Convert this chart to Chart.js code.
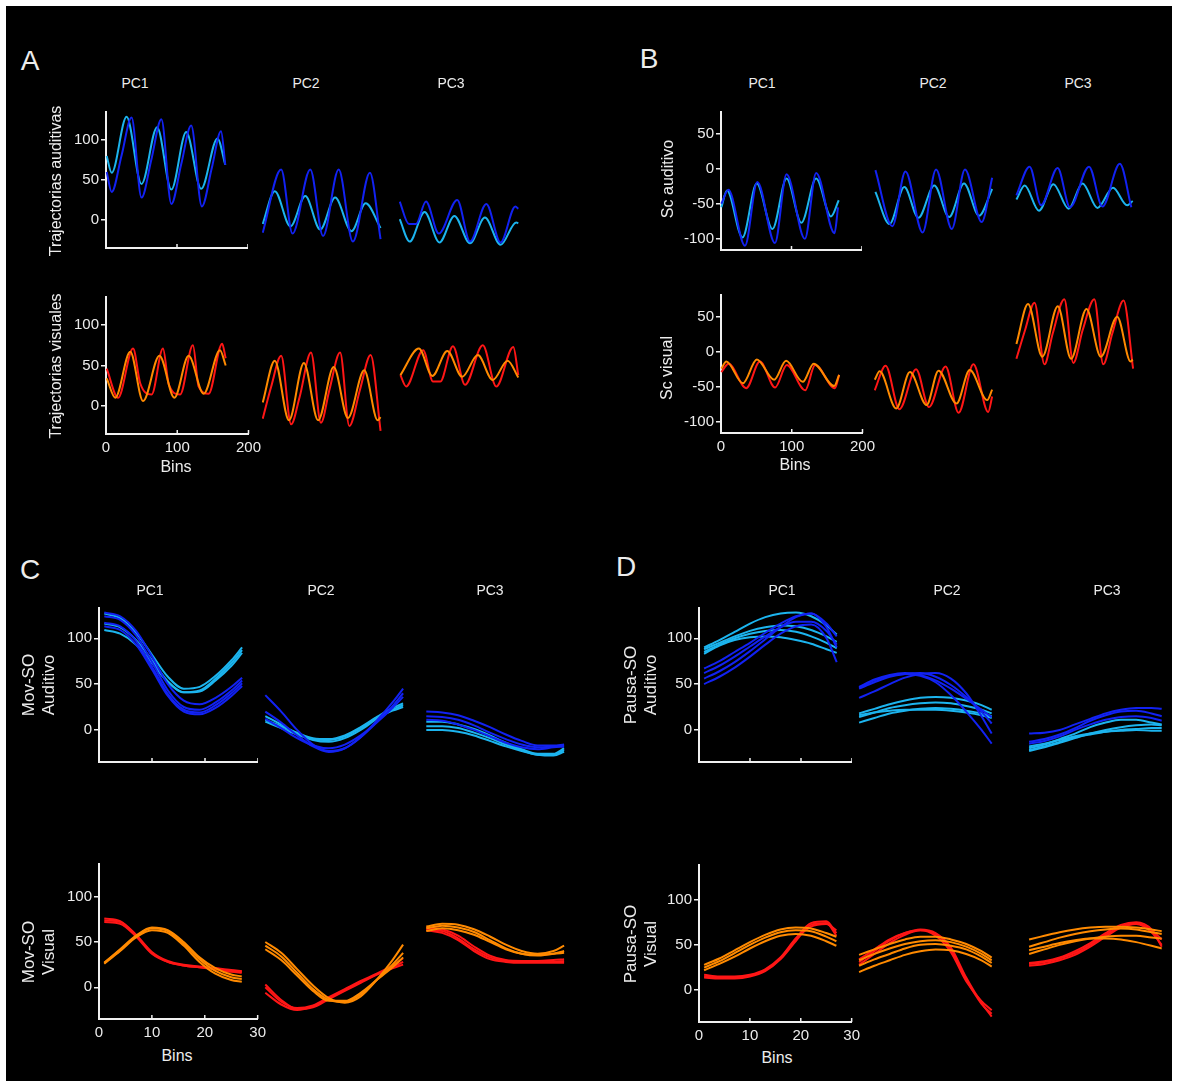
<!DOCTYPE html>
<html>
<head>
<meta charset="utf-8">
<script src="https://cdn.jsdelivr.net/npm/chart.js@4.4.1/dist/chart.umd.min.js"></script>
<style>
  body { margin: 0; background: #fff; }
  #page { position: relative; width: 1180px; height: 1083px; overflow: hidden; background: #fff; }
  #black { position: absolute; left: 6px; top: 6px; width: 1166px; height: 1075px; background: #000; }
  canvas { position: absolute; }
  .txt { position: absolute; color: #ececec; font-family: 'Liberation Sans', Arial, sans-serif;
         white-space: nowrap; transform: translate(-50%, -50%); text-align: center; }
  .rot { transform: translate(-50%, -50%) rotate(-90deg); line-height: 1.2; }
</style>
</head>
<body>
<div id="page"><div id="black"></div></div>
<script>
// ---- Panel A: Trajectorias auditivas / visuales (bins 0-170) ----
const A_aud_PC1_cyan_bins = [1, 8, 29, 50, 72, 92, 113, 134, 157, 168];
const A_aud_PC1_cyan      = [80, 59, 129, 45, 116, 38, 110, 39, 102, 69];
const A_aud_PC1_blue_bins = [1, 8, 22, 36, 50, 64, 78, 92, 106, 120, 135, 149, 162, 168];
const A_aud_PC1_blue      = [60, 35, 81, 128, 28, 76, 126, 20, 70, 118, 17, 65, 111, 69];
const A_aud_PC2_cyan_bins = [1, 18, 40, 61, 82, 103, 126, 146, 167];
const A_aud_PC2_cyan      = [-5, 36, -8, 30, -12, 28, -14, 21, -10];
const A_aud_PC2_blue_bins = [1, 27, 43, 68, 86, 108, 128, 152, 167];
const A_aud_PC2_blue      = [-16, 63, -17, 63, -20, 63, -27, 59, -24];
const A_aud_PC3_cyan_bins = [1, 15, 36, 57, 78, 100, 121, 143, 165, 168];
const A_aud_PC3_cyan      = [1, -27, 10, -28, 5, -29, 3, -31, -3, -4];
const A_aud_PC3_blue_bins = [1, 14, 24, 38, 56, 82, 100, 123, 143, 164, 168];
const A_aud_PC3_blue      = [23, -5, -5, 23, -17, 25, -27, 20, -28, 17, 14];

const A_vis_PC1_orange_bins = [1, 13, 34, 52, 75, 96, 116, 137, 160, 168];
const A_vis_PC1_orange      = [34, 10, 67, 6, 62, 10, 62, 15, 69, 50];
const A_vis_PC1_red_bins    = [1, 17, 38, 48, 64, 80, 88, 104, 122, 130, 144, 163, 168];
const A_vis_PC1_red         = [46, 10, 71, 28, 14, 71, 27, 14, 75, 24, 15, 77, 59];
const A_vis_PC2_orange_bins = [1, 18, 38, 59, 79, 101, 121, 144, 163, 167];
const A_vis_PC2_orange      = [4, 56, -18, 53, -18, 48, -15, 44, -18, -14];
const A_vis_PC2_red_bins    = [1, 13, 27, 41, 53, 69, 83, 95, 110, 123, 138, 153, 167];
const A_vis_PC2_red         = [-16, 24, 62, -23, 11, 66, -21, 20, 66, -25, 20, 63, -31];
const A_vis_PC3_orange_bins = [2, 28, 47, 68, 89, 111, 132, 153, 168];
const A_vis_PC3_orange      = [38, 71, 37, 68, 36, 63, 32, 56, 35];
const A_vis_PC3_red_bins    = [2, 10, 34, 48, 58, 76, 93, 118, 137, 161, 168];
const A_vis_PC3_red         = [38, 24, 69, 30, 30, 74, 26, 75, 24, 73, 38];

// ---- Panel B: Sc auditivo / Sc visual ----
const B_aud_PC1_cyan_bins = [0.5, 8.5, 30.5, 50.7, 73, 93, 114, 135, 156, 167];
const B_aud_PC1_cyan      = [-55, -31, -98, -21, -86, -14, -77, -14, -68, -45];
const B_aud_PC1_blue_bins = [0.5, 10.5, 34, 51.5, 76.5, 93, 119, 135, 161, 166];
const B_aud_PC1_blue      = [-50, -30, -110, -19, -106, -8, -100, -6, -92, -55];
const B_aud_PC2_cyan_bins = [2, 22, 43, 63, 85.5, 106.6, 127.7, 149, 167.6];
const B_aud_PC2_cyan      = [-33, -79, -26, -70, -24, -69, -21, -67, -29];
const B_aud_PC2_blue_bins = [2, 26, 44.6, 69, 88, 110.4, 129, 152.7, 167.6];
const B_aud_PC2_blue      = [-2, -82, -4, -91, -1, -86, -1, -76, -13];
const B_aud_PC3_cyan_bins = [2, 13.7, 34, 54.5, 76, 95.8, 117, 139, 159, 167];
const B_aud_PC3_cyan      = [-44, -24, -60, -22, -57, -21, -56, -27, -52, -46];
const B_aud_PC3_blue_bins = [2, 20.7, 37, 60.5, 78, 105, 124, 148.7, 165];
const B_aud_PC3_blue      = [-38, 3, -52, 1, -55, 3, -54, 7, -55];

const B_vis_PC1_orange_bins = [0.5, 7.5, 31, 50.7, 75, 92, 115.5, 131, 160, 167];
const B_vis_PC1_orange      = [-24, -14, -45, -11, -40, -13, -43, -17, -49, -33];
const B_vis_PC1_red_bins    = [0.5, 10.7, 35.6, 55, 76.5, 93, 119, 133, 161, 167];
const B_vis_PC1_red         = [-29, -17, -52, -14, -51, -19, -55, -19, -52, -33];
const B_vis_PC2_orange_bins = [1, 8, 31.5, 51, 74.6, 91.5, 117, 135.8, 160.6, 167.6];
const B_vis_PC2_orange      = [-40, -28, -81, -29, -76, -27, -74, -26, -69, -54];
const B_vis_PC2_red_bins    = [1, 16.5, 36, 59.7, 78, 101.6, 120, 141, 162, 167.6];
const B_vis_PC2_red         = [-55, -20, -82, -25, -79, -21, -87, -18, -86, -64];
const B_vis_PC3_orange_bins = [2, 18.5, 38.7, 60.7, 79.5, 101.4, 121.7, 145, 164, 167];
const B_vis_PC3_orange      = [11, 68, -7, 65, -10, 61, -7, 50, -14, -11];
const B_vis_PC3_red_bins    = [2, 14, 27.7, 41.8, 53.5, 70, 82.7, 96, 112.5, 125.2, 138, 154, 167.5];
const B_vis_PC3_red         = [-10, 30, 70, -18, 26, 75, -16, 31, 75, -18, 26, 73, -24];

// ---- Panels C and D: Mov-SO / Pausa-SO (bins 1-27) ----
const binsCD = [1, 4, 7, 10, 13, 16, 19, 22, 25, 27];

const C_aud_PC1_blue = [
  [128, 124, 108, 80, 50, 32, 28, 35, 47, 57],
  [124, 120, 103, 74, 43, 25, 22, 30, 43, 54],
  [117, 113, 97, 69, 39, 22, 19, 27, 40, 51],
  [113, 109, 93, 66, 37, 20, 17, 24, 37, 48]];
const C_aud_PC1_cyan = [
  [127, 122, 106, 82, 58, 45, 47, 59, 76, 90],
  [116, 112, 98, 76, 53, 41, 43, 56, 73, 87],
  [109, 105, 93, 73, 52, 41, 42, 54, 70, 84]];
const C_aud_PC2_blue = [
  [38, 20, 0, -16, -23, -20, -8, 10, 30, 45],
  [20, 8, -6, -18, -24, -20, -8, 8, 26, 40],
  [12, 2, -9, -17, -20, -16, -6, 8, 24, 36]];
const C_aud_PC2_cyan = [
  [15, 6, -4, -11, -13, -9, 0, 12, 22, 27],
  [9, 2, -5, -10, -11, -7, 2, 13, 21, 25],
  [11, 4, -3, -9, -10, -6, 3, 14, 24, 29]];
const C_aud_PC3_blue = [
  [20, 19, 16, 10, 3, -5, -12, -17, -17, -16],
  [15, 14, 11, 5, -3, -10, -16, -19, -18, -17],
  [11, 10, 6, 0, -7, -14, -19, -21, -19, -18]];
const C_aud_PC3_cyan = [
  [9, 9, 6, 1, -6, -14, -21, -26, -26, -20],
  [4, 4, 2, -3, -9, -16, -22, -27, -27, -22],
  [0, 0, -2, -6, -12, -18, -23, -27, -28, -24]];

const C_vis_PC1_orange = [
  [27, 42, 57, 66, 63, 50, 33, 21, 14, 12],
  [27, 41, 56, 65, 62, 48, 31, 18, 11, 9],
  [26, 40, 55, 63, 60, 46, 28, 15, 8, 6]];
const C_vis_PC1_red = [
  [76, 73, 58, 39, 29, 25, 23, 21, 19, 18],
  [72, 70, 56, 37, 28, 24, 22, 20, 17, 16],
  [74, 72, 57, 38, 28, 24, 22, 21, 18, 17]];
const C_vis_PC2_orange = [
  [50, 38, 20, 2, -12, -17, -10, 8, 30, 47],
  [46, 34, 16, -2, -14, -16, -8, 8, 25, 38],
  [42, 30, 13, -4, -15, -15, -6, 8, 22, 33]];
const C_vis_PC2_red = [
  [3, -14, -24, -22, -13, -4, 5, 14, 22, 28],
  [-6, -19, -25, -21, -12, -3, 6, 14, 21, 25],
  [0, -16, -23, -20, -11, -2, 7, 15, 24, 32]];
const C_vis_PC3_orange = [
  [67, 70, 69, 64, 56, 47, 40, 37, 40, 46],
  [65, 68, 66, 61, 52, 43, 37, 35, 37, 40],
  [62, 65, 63, 58, 50, 42, 37, 36, 37, 38]];
const C_vis_PC3_red = [
  [66, 64, 57, 45, 35, 30, 29, 29, 30, 31],
  [63, 60, 52, 40, 31, 28, 27, 27, 27, 27],
  [64, 62, 54, 42, 33, 29, 28, 28, 28, 29]];

const D_aud_PC1_blue = [
  [67, 75, 85, 95, 106, 116, 124, 127, 116, 102],
  [62, 70, 80, 91, 102, 112, 118, 118, 108, 93],
  [56, 64, 74, 86, 99, 112, 123, 127, 112, 90],
  [50, 58, 68, 80, 93, 105, 113, 115, 100, 74]];
const D_aud_PC1_cyan = [
  [90, 98, 107, 116, 123, 127, 128, 124, 114, 104],
  [88, 95, 102, 108, 112, 114, 113, 109, 102, 96],
  [85, 93, 100, 105, 108, 109, 107, 102, 95, 89],
  [83, 92, 98, 101, 102, 101, 98, 94, 88, 84]];
const D_aud_PC2_blue = [
  [47, 55, 60, 62, 60, 54, 45, 34, 22, 14],
  [45, 52, 58, 61, 62, 58, 49, 36, 20, 7],
  [35, 42, 50, 57, 61, 62, 56, 40, 15, -4],
  [46, 54, 59, 61, 59, 52, 38, 20, 0, -15]];
const D_aud_PC2_cyan = [
  [18, 23, 28, 32, 35, 36, 35, 32, 27, 22],
  [14, 19, 24, 27, 29, 30, 29, 26, 22, 18],
  [8, 13, 18, 21, 23, 24, 23, 21, 18, 15],
  [16, 19, 21, 22, 22, 22, 21, 19, 16, 13]];
const D_aud_PC3_blue = [
  [-4, -3, 0, 6, 12, 18, 22, 24, 24, 23],
  [-13, -10, -5, 2, 10, 16, 20, 21, 18, 15],
  [-15, -12, -7, 0, 6, 11, 14, 15, 13, 10]];
const D_aud_PC3_cyan = [
  [-20, -16, -10, -4, 3, 8, 11, 11, 8, 6],
  [-23, -19, -14, -9, -4, 0, 3, 5, 6, 5],
  [-22, -18, -13, -8, -5, -2, 0, 1, 2, 2],
  [-18, -15, -11, -7, -4, -2, -1, 0, -1, -1]];

const D_vis_PC1_orange = [
  [28, 35, 44, 53, 61, 67, 69, 68, 63, 59],
  [25, 32, 41, 50, 58, 64, 66, 65, 59, 54],
  [22, 29, 37, 46, 54, 60, 62, 60, 54, 49]];
const D_vis_PC1_red = [
  [17, 15, 15, 17, 23, 36, 57, 74, 76, 63],
  [14, 13, 13, 15, 21, 34, 54, 72, 74, 60],
  [15, 14, 14, 16, 22, 35, 56, 70, 73, 66]];
const D_vis_PC2_orange = [
  [39, 45, 51, 56, 59, 59, 56, 51, 43, 36],
  [33, 40, 46, 51, 54, 55, 53, 48, 40, 33],
  [27, 34, 40, 46, 50, 51, 49, 45, 37, 30],
  [20, 27, 33, 39, 43, 45, 44, 40, 33, 26]];
const D_vis_PC2_red = [
  [28, 40, 52, 61, 66, 62, 45, 12, -15, -26],
  [31, 43, 55, 63, 67, 63, 47, 14, -14, -29],
  [34, 45, 56, 63, 66, 60, 42, 10, -12, -22]];
const D_vis_PC3_orange = [
  [56, 60, 64, 67, 69, 70, 70, 69, 67, 65],
  [48, 53, 58, 62, 65, 67, 68, 67, 64, 62],
  [40, 45, 50, 54, 57, 59, 60, 60, 58, 57],
  [44, 48, 52, 55, 57, 57, 56, 53, 49, 46]];
const D_vis_PC3_red = [
  [29, 31, 35, 41, 50, 61, 70, 74, 66, 56],
  [27, 29, 33, 39, 48, 59, 69, 73, 64, 50],
  [30, 32, 36, 43, 52, 63, 72, 75, 67, 48]];

// tick labels
const ticksBinsAB = [0, 100, 200];
const ticksBinsCD = [0, 10, 20, 30];
const ticksY_A = [0, 50, 100];
const ticksY_B = [-100, -50, 0, 50];
const ticksY_CD = [0, 50, 100];

// ---- drawing ----
const TEXT = '#ececec';
const AXIS = '#f0f0f0';
const CYAN = '#1cb4ee', BLUE = '#1222f2', ORANGE = '#ff8a00', RED = '#ff1616';
const page = document.getElementById('page');
Chart.defaults.font.family = "'Liberation Sans', Arial, sans-serif";
Chart.defaults.color = TEXT;

function line(bins, vals, color) {
  return { data: bins.map((b, i) => ({ x: b, y: vals[i] })), borderColor: color,
           borderWidth: 2, pointRadius: 0, fill: false, clip: false,
           cubicInterpolationMode: 'monotone' };
}
function bundle(vals, color) { return vals.map(v => line(binsCD, v, color)); }

// small upward tick marks on the x axis
const inwardTicks = {
  id: 'inwardTicks',
  afterDraw(chart) {
    const xs = chart.scales.x;
    if (!xs || !xs.options.display) return;
    const ctx = chart.ctx, y = chart.chartArea.bottom;
    ctx.save();
    ctx.strokeStyle = AXIS; ctx.lineWidth = 1.5;
    xs.ticks.forEach(t => {
      const px = xs.getPixelForValue(t.value);
      ctx.beginPath(); ctx.moveTo(px, y); ctx.lineTo(px, y - 4); ctx.stroke();
    });
    ctx.restore();
  }
};

function config(p) {
  const show = p.axes !== 'none';
  const x = {
    type: 'linear', min: 0, max: p.xMax, display: show,
    afterBuildTicks: s => { s.ticks = p.xTicks.map(v => ({ value: v })); },
    grid: { display: false, drawTicks: false },
    border: { display: true, color: AXIS, width: 2 },
    ticks: { display: p.axes === 'bottom', padding: 5, maxRotation: 0, autoSkip: false,
             font: { size: 15 }, color: TEXT }
  };
  const y = {
    type: 'linear', min: p.yMin, max: p.yMax, display: show,
    afterBuildTicks: s => { s.ticks = p.yTicks.map(v => ({ value: v })); },
    grid: { drawOnChartArea: false, drawTicks: true, tickLength: 5, color: AXIS, lineWidth: 1.5 },
    border: { display: true, color: AXIS, width: 2 },
    ticks: { padding: 2, font: { size: 15 }, color: TEXT, autoSkip: false }
  };
  if (show) {
    x.afterFit = s => { s.height = p.axes === 'bottom' ? 26 : 2; };
    y.afterFit = s => { s.width = 48; };
  }
  return {
    type: 'line',
    data: { datasets: p.datasets },
    options: {
      responsive: false, animation: false, events: [],
      layout: { padding: 0 },
      plugins: { legend: { display: false }, tooltip: { enabled: false } },
      scales: { x, y }
    },
    plugins: [inwardTicks]
  };
}

function setSize(cv, w, h) {
  cv.width = Math.round(w); cv.height = Math.round(h);
  cv.style.width = Math.round(w) + 'px'; cv.style.height = Math.round(h) + 'px';
}

function plot(p) {
  const cv = document.createElement('canvas');
  page.appendChild(cv);
  if (p.axes === 'none') {
    setSize(cv, p.w, p.h);
    cv.style.left = p.left + 'px'; cv.style.top = p.top + 'px';
    new Chart(cv, config(p));
    return;
  }
  setSize(cv, p.w + 70, p.h + 40);
  let ch = new Chart(cv, config(p));
  const a = ch.chartArea;
  const mL = a.left, mT = a.top, mR = cv.width - a.right, mB = cv.height - a.bottom;
  ch.destroy();
  setSize(cv, p.w + mL + mR, p.h + mT + mB);
  ch = new Chart(cv, config(p));
  cv.style.left = (p.left - ch.chartArea.left) + 'px';
  cv.style.top = (p.top - ch.chartArea.top) + 'px';
}

function txt(s, x, y, size, rot) {
  const d = document.createElement('div');
  d.className = 'txt' + (rot ? ' rot' : '');
  d.style.left = x + 'px'; d.style.top = y + 'px'; d.style.fontSize = size + 'px';
  d.innerHTML = s;
  page.appendChild(d);
}

// Panel A
const A = { xMax: 200, xTicks: ticksBinsAB, w: 142, yTicks: ticksY_A, yMin: -35, yMax: 135 };
const Alefts = [106, 262.3, 399.3];
const Aaud = [
  [line(A_aud_PC1_blue_bins, A_aud_PC1_blue, BLUE), line(A_aud_PC1_cyan_bins, A_aud_PC1_cyan, CYAN)],
  [line(A_aud_PC2_blue_bins, A_aud_PC2_blue, BLUE), line(A_aud_PC2_cyan_bins, A_aud_PC2_cyan, CYAN)],
  [line(A_aud_PC3_blue_bins, A_aud_PC3_blue, BLUE), line(A_aud_PC3_cyan_bins, A_aud_PC3_cyan, CYAN)]];
const Avis = [
  [line(A_vis_PC1_orange_bins, A_vis_PC1_orange, ORANGE), line(A_vis_PC1_red_bins, A_vis_PC1_red, RED)],
  [line(A_vis_PC2_orange_bins, A_vis_PC2_orange, ORANGE), line(A_vis_PC2_red_bins, A_vis_PC2_red, RED)],
  [line(A_vis_PC3_orange_bins, A_vis_PC3_orange, ORANGE), line(A_vis_PC3_red_bins, A_vis_PC3_red, RED)]];
Aaud.forEach((ds, i) => plot({ ...A, left: Alefts[i], top: 112, h: 136, axes: i ? 'none' : 'top', datasets: ds }));
Avis.forEach((ds, i) => plot({ ...A, left: Alefts[i], top: 297, h: 137, axes: i ? 'none' : 'bottom', datasets: ds }));

// Panel B
const B = { xMax: 200, xTicks: ticksBinsAB, w: 141.3, yTicks: ticksY_B, yMin: -116, yMax: 81 };
const Blefts = [720.7, 874.3, 1015.3];
const Baud = [
  [line(B_aud_PC1_blue_bins, B_aud_PC1_blue, BLUE), line(B_aud_PC1_cyan_bins, B_aud_PC1_cyan, CYAN)],
  [line(B_aud_PC2_blue_bins, B_aud_PC2_blue, BLUE), line(B_aud_PC2_cyan_bins, B_aud_PC2_cyan, CYAN)],
  [line(B_aud_PC3_blue_bins, B_aud_PC3_blue, BLUE), line(B_aud_PC3_cyan_bins, B_aud_PC3_cyan, CYAN)]];
const Bvis = [
  [line(B_vis_PC1_orange_bins, B_vis_PC1_orange, ORANGE), line(B_vis_PC1_red_bins, B_vis_PC1_red, RED)],
  [line(B_vis_PC2_orange_bins, B_vis_PC2_orange, ORANGE), line(B_vis_PC2_red_bins, B_vis_PC2_red, RED)],
  [line(B_vis_PC3_orange_bins, B_vis_PC3_orange, ORANGE), line(B_vis_PC3_red_bins, B_vis_PC3_red, RED)]];
Baud.forEach((ds, i) => plot({ ...B, left: Blefts[i], top: 112, h: 138, axes: i ? 'none' : 'top', datasets: ds }));
Bvis.forEach((ds, i) => plot({ ...B, left: Blefts[i], top: 295, h: 138, axes: i ? 'none' : 'bottom', datasets: ds }));

// Panel C
const C = { xMax: 30, xTicks: ticksBinsCD, w: 158.7, yTicks: ticksY_CD };
const Clefts = [99.3, 259.7, 420.7];
const Caud = [[...bundle(C_aud_PC1_blue, BLUE), ...bundle(C_aud_PC1_cyan, CYAN)],
              [...bundle(C_aud_PC2_blue, BLUE), ...bundle(C_aud_PC2_cyan, CYAN)],
              [...bundle(C_aud_PC3_blue, BLUE), ...bundle(C_aud_PC3_cyan, CYAN)]];
const Cvis = [[...bundle(C_vis_PC1_orange, ORANGE), ...bundle(C_vis_PC1_red, RED)],
              [...bundle(C_vis_PC2_orange, ORANGE), ...bundle(C_vis_PC2_red, RED)],
              [...bundle(C_vis_PC3_orange, ORANGE), ...bundle(C_vis_PC3_red, RED)]];
Caud.forEach((ds, i) => plot({ ...C, yMin: -35, yMax: 133, left: Clefts[i], top: 607.7, h: 154, axes: i ? 'none' : 'top', datasets: ds }));
Cvis.forEach((ds, i) => plot({ ...C, yMin: -35, yMax: 136, left: Clefts[i], top: 864, h: 155, axes: i ? 'none' : 'bottom', datasets: ds }));

// Panel D
const D = { xMax: 30, xTicks: ticksBinsCD, w: 152.8, yTicks: ticksY_CD };
const Dlefts = [698.9, 853.9, 1023.9];
const Daud = [[...bundle(D_aud_PC1_blue, BLUE), ...bundle(D_aud_PC1_cyan, CYAN)],
              [...bundle(D_aud_PC2_blue, BLUE), ...bundle(D_aud_PC2_cyan, CYAN)],
              [...bundle(D_aud_PC3_blue, BLUE), ...bundle(D_aud_PC3_cyan, CYAN)]];
const Dvis = [[...bundle(D_vis_PC1_orange, ORANGE), ...bundle(D_vis_PC1_red, RED)],
              [...bundle(D_vis_PC2_orange, ORANGE), ...bundle(D_vis_PC2_red, RED)],
              [...bundle(D_vis_PC3_orange, ORANGE), ...bundle(D_vis_PC3_red, RED)]];
Daud.forEach((ds, i) => plot({ ...D, yMin: -35, yMax: 133, left: Dlefts[i], top: 607.7, h: 154.3, axes: i ? 'none' : 'top', datasets: ds }));
Dvis.forEach((ds, i) => plot({ ...D, yMin: -35, yMax: 138, left: Dlefts[i], top: 865, h: 156.7, axes: i ? 'none' : 'bottom', datasets: ds }));

// labels
txt('A', 30, 61, 28); txt('B', 649, 59, 28); txt('C', 30, 570, 28); txt('D', 626, 567, 28);
[[135, 83], [306, 83], [451, 83], [762, 83], [933, 83], [1078, 83],
 [150, 590], [321, 590], [490, 590], [782, 590], [947, 590], [1107, 590]]
  .forEach((p, i) => txt('PC' + (i % 3 + 1), p[0], p[1], 14));
txt('Trajectorias auditivas', 55.5, 181, 16, true);
txt('Trajectorias visuales', 55.5, 366, 16, true);
txt('Sc auditivo', 668, 179, 16, true);
txt('Sc visual', 667, 368, 16, true);
txt('Mov-SO<br>Auditivo', 38.5, 685, 17, true);
txt('Mov-SO<br>Visual', 38.5, 952, 17, true);
txt('Pausa-SO<br>Auditivo', 641, 685, 17, true);
txt('Pausa-SO<br>Visual', 641, 944, 17, true);
txt('Bins', 176, 467, 16); txt('Bins', 795, 465, 16);
txt('Bins', 177, 1056, 16); txt('Bins', 777, 1058, 16);
</script>
</body>
</html>
